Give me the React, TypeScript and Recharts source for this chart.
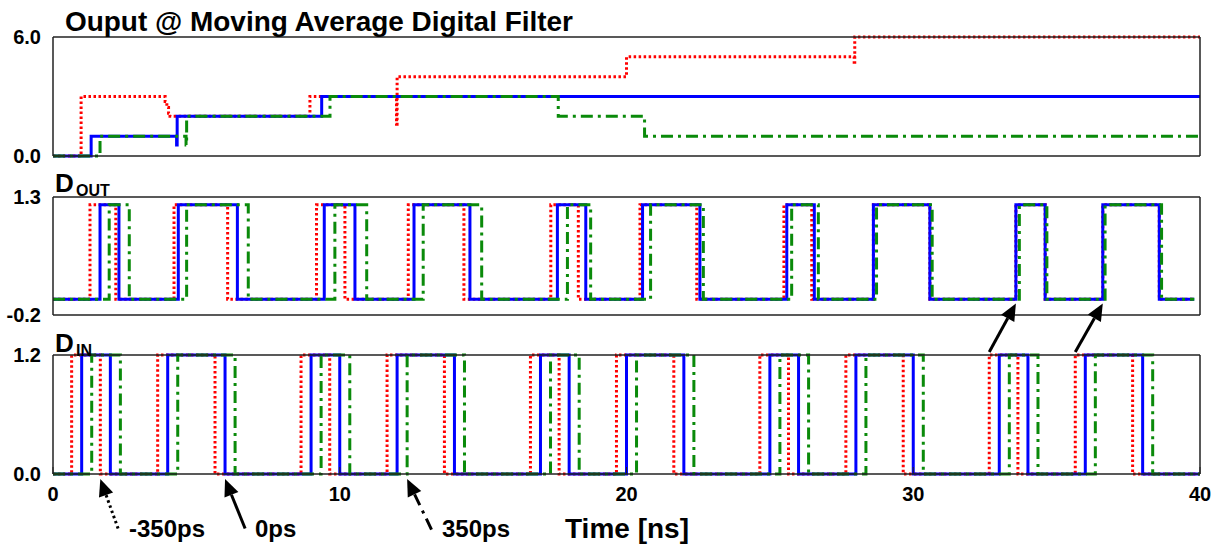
import React from 'react';
import { LineChart, Line, XAxis, YAxis, ReferenceLine } from 'recharts';

const FONT = '"Liberation Sans", Arial, sans-serif';

// x axis (ns)
const xMajorTicks = [0, 10, 20, 30, 40];
const xMinorTicks = [
  0, 1, 2, 3, 4, 5, 6, 7, 8, 9, 10, 11, 12, 13, 14, 15, 16, 17, 18, 19, 20,
  21, 22, 23, 24, 25, 26, 27, 28, 29, 30, 31, 32, 33, 34, 35, 36, 37, 38, 39, 40,
];

// moving average filter output: value held from each time on
const filterTimesEarly = [0, 0.98, 3.91, 3.97, 4.03, 4.08, 8.96, 11.98, 12.0, 20.0, 27.94, 27.96, 40];
const filterEarly = [0, 3, 2.75, 2.45, 2.15, 2, 3, 1.6, 4, 5, 4.6, 6, 6];
const filterTimesNominal = [0, 1.33, 4.31, 4.33, 9.37, 40];
const filterNominal = [0, 1, 0.55, 2, 3, 3];
const filterTimesLate = [0, 1.64, 4.64, 4.66, 9.66, 17.62, 20.63, 40];
const filterLate = [0, 1, 0.55, 2, 3, 2, 1, 1];

// D_OUT edges (rise, fall, rise, ...)
const doutEarly = [1.29, 2.19, 4.22, 6.09, 9.19, 10.18, 12.39, 14.33, 17.36, 18.32, 20.47, 22.45, 25.49, 26.46, 28.61, 30.58, 33.58, 34.6, 36.61, 38.58];
const doutNominal = [1.64, 2.3, 4.37, 6.43, 9.46, 10.53, 12.59, 14.54, 17.59, 18.58, 20.56, 22.56, 25.59, 26.55, 28.61, 30.58, 33.58, 34.6, 36.61, 38.58];
const doutLate = [1.96, 2.66, 4.66, 6.81, 9.83, 10.94, 12.91, 14.95, 17.94, 18.75, 20.84, 22.68, 25.76, 26.69, 28.72, 30.66, 33.7, 34.66, 36.69, 38.66];
const doutEnd = 39.8;
const doutLow = 0;
const doutHigh = 1.2;

// D_IN edges
const dinEarly = [0.65, 1.65, 3.65, 5.65, 8.65, 9.65, 11.65, 13.65, 16.65, 17.65, 19.65, 21.65, 24.65, 25.65, 27.65, 29.65, 32.65, 33.65, 35.65, 37.65];
const dinNominal = [1, 2, 4, 6, 9, 10, 12, 14, 17, 18, 20, 22, 25, 26, 28, 30, 33, 34, 36, 38];
const dinLate = [1.35, 2.35, 4.35, 6.35, 9.35, 10.35, 12.35, 14.35, 17.35, 18.35, 20.35, 22.35, 25.35, 26.35, 28.35, 30.35, 33.35, 34.35, 36.35, 38.35];
const dinEnd = 40;
const dinLow = 0;
const dinHigh = 1.2;

// y axes
const filterDomain: [number, number] = [0, 6];
const filterLabelTicks = [0, 6];
const filterMinorTicks = [0, 1, 2, 3, 4, 5, 6];
const doutDomain: [number, number] = [-0.2, 1.3];
const doutLabelTicks = [-0.2, 1.3];
const doutMinorTicks = [-0.2, 0.1, 0.4, 0.7, 1.0, 1.3];
const dinDomain: [number, number] = [0, 1.2];
const dinLabelTicks = [0, 1.2];
const dinMinorTicks = [0, 0.2, 0.4, 0.6, 0.8, 1.0, 1.2];

// annotation arrows on D_IN panel: [tail, tip]
const skewArrows = [
  { from: { x: 2.27, y: -0.55 }, to: { x: 1.65, y: -0.05 }, dash: '2.5 3' },
  { from: { x: 6.7, y: -0.55 }, to: { x: 6.0, y: -0.05 }, dash: undefined },
  { from: { x: 13.2, y: -0.56 }, to: { x: 12.35, y: -0.05 }, dash: '12 6 3 6' },
];
const syncArrows = [
  { from: { x: 32.65, y: 1.23 }, to: { x: 33.58, y: 1.72 } },
  { from: { x: 35.65, y: 1.23 }, to: { x: 36.61, y: 1.72 } },
];

type Pt = { t: number; v: number };

const toSteps = (times: number[], values: number[]): Pt[] =>
  times.map((t, i) => ({ t, v: values[i] }));

const edgesToSteps = (edges: number[], lo: number, hi: number, end: number): Pt[] => [
  { t: 0, v: lo },
  ...edges.map((t, i) => ({ t, v: i % 2 === 0 ? hi : lo })),
  { t: end, v: lo },
];

const RED = { stroke: '#ff0000', strokeDasharray: '2.5 2.5' };
const BLUE = { stroke: '#0000ff', strokeDasharray: undefined };
const GREEN = { stroke: '#0a8a0a', strokeDasharray: '12 5 3 5' };

const tickFont = { fontSize: 20, fontWeight: 700, fill: '#000', fontFamily: FONT };
const AXIS = '#222';

const arrowShape = (dash?: string) => (props: any) => {
  const { x1, y1, x2, y2 } = props;
  const dx = x2 - x1;
  const dy = y2 - y1;
  const len = Math.hypot(dx, dy) || 1;
  const ux = dx / len;
  const uy = dy / len;
  const head = 17;
  const half = 7.5;
  const bx = x2 - ux * head;
  const by = y2 - uy * head;
  const px = -uy * half;
  const py = ux * half;
  return (
    <g>
      <line x1={x1} y1={y1} x2={bx} y2={by} stroke="#000" strokeWidth={3} strokeDasharray={dash} />
      <polygon points={`${x2},${y2} ${bx + px},${by + py} ${bx - px},${by - py}`} fill="#000" />
    </g>
  );
};

// axes need a non-zero size to be drawn, so each one takes 1px
const frameAxes = (yDomain: [number, number], yLabels: number[], yMinor: number[], showX: boolean) => [
  <XAxis
    key="xb"
    xAxisId="xb"
    type="number"
    dataKey="t"
    domain={[0, 40]}
    ticks={xMajorTicks}
    interval={0}
    height={1}
    tickSize={-7}
    tickMargin={20}
    tick={showX ? tickFont : false}
    axisLine={{ stroke: AXIS, strokeWidth: 1.5 }}
    tickLine={{ stroke: AXIS }}
  />,
  <XAxis
    key="xbm"
    xAxisId="xbm"
    type="number"
    domain={[0, 40]}
    ticks={xMinorTicks}
    interval={0}
    height={1}
    tickSize={-5}
    tick={false}
    axisLine={false}
    tickLine={{ stroke: AXIS }}
  />,
  <XAxis
    key="xt"
    xAxisId="xt"
    orientation="top"
    type="number"
    domain={[0, 40]}
    ticks={xMajorTicks}
    interval={0}
    height={1}
    tickSize={-7}
    tick={false}
    axisLine={{ stroke: AXIS, strokeWidth: 1.5 }}
    tickLine={{ stroke: AXIS }}
  />,
  <XAxis
    key="xtm"
    xAxisId="xtm"
    orientation="top"
    type="number"
    domain={[0, 40]}
    ticks={xMinorTicks}
    interval={0}
    height={1}
    tickSize={-5}
    tick={false}
    axisLine={false}
    tickLine={{ stroke: AXIS }}
  />,
  <YAxis
    key="yl"
    yAxisId="yl"
    type="number"
    domain={yDomain}
    ticks={yLabels}
    interval={0}
    width={1}
    tickSize={-6}
    tickMargin={18}
    tick={tickFont}
    tickFormatter={(v: number) => v.toFixed(1)}
    axisLine={{ stroke: AXIS, strokeWidth: 1.5 }}
    tickLine={false}
  />,
  <YAxis
    key="ylm"
    yAxisId="ylm"
    type="number"
    domain={yDomain}
    ticks={yMinor}
    interval={0}
    width={1}
    tickSize={-5}
    tick={false}
    axisLine={false}
    tickLine={{ stroke: AXIS }}
  />,
  <YAxis
    key="yr"
    yAxisId="yr"
    orientation="right"
    type="number"
    domain={yDomain}
    ticks={yMinor}
    interval={0}
    width={1}
    tickSize={-5}
    tick={false}
    axisLine={{ stroke: AXIS, strokeWidth: 1.5 }}
    tickLine={{ stroke: AXIS }}
  />,
];

const seriesLines = (sets: { data: Pt[]; style: { stroke: string; strokeDasharray?: string } }[]) =>
  sets.map((s, i) => (
    <Line
      key={i}
      xAxisId="xb"
      yAxisId="yl"
      data={s.data}
      dataKey="v"
      type="stepAfter"
      stroke={s.style.stroke}
      strokeDasharray={s.style.strokeDasharray}
      strokeWidth={3}
      dot={false}
      activeDot={false}
      isAnimationActive={false}
    />
  ));

export default function App() {
  const filterSets = [
    { data: toSteps(filterTimesEarly, filterEarly), style: RED },
    { data: toSteps(filterTimesNominal, filterNominal), style: BLUE },
    { data: toSteps(filterTimesLate, filterLate), style: GREEN },
  ];
  const doutSets = [
    { data: edgesToSteps(doutEarly, doutLow, doutHigh, doutEnd), style: RED },
    { data: edgesToSteps(doutNominal, doutLow, doutHigh, doutEnd), style: BLUE },
    { data: edgesToSteps(doutLate, doutLow, doutHigh, doutEnd), style: GREEN },
  ];
  const dinSets = [
    { data: edgesToSteps(dinEarly, dinLow, dinHigh, dinEnd), style: RED },
    { data: edgesToSteps(dinNominal, dinLow, dinHigh, dinEnd), style: BLUE },
    { data: edgesToSteps(dinLate, dinLow, dinHigh, dinEnd), style: GREEN },
  ];

  const txt = { fontFamily: FONT, fontWeight: 700, fill: '#000' } as const;
  // plot box: x 53..1200; panels y 37..156, 197..315, 355..474
  const m = (top: number, bottom: number) => ({ top: top - 2, right: 19, bottom: bottom - 2, left: 51 });

  return (
    <div style={{ position: 'absolute', left: 0, top: 0, width: 1220, height: 548, background: '#fff' }}>
      <div style={{ position: 'absolute', left: 0, top: 0 }}>
        <LineChart width={1220} height={180} margin={m(37, 24)}>
          {frameAxes(filterDomain, filterLabelTicks, filterMinorTicks, false)}
          {seriesLines(filterSets)}
        </LineChart>
      </div>
      <div style={{ position: 'absolute', left: 0, top: 160 }}>
        <LineChart width={1220} height={180} margin={m(37, 25)}>
          {frameAxes(doutDomain, doutLabelTicks, doutMinorTicks, false)}
          {seriesLines(doutSets)}
        </LineChart>
      </div>
      <div style={{ position: 'absolute', left: 0, top: 290 }}>
        <LineChart width={1220} height={258} margin={m(65, 74)}>
          {frameAxes(dinDomain, dinLabelTicks, dinMinorTicks, true)}
          {seriesLines(dinSets)}
          {skewArrows.map((a, i) => (
            <ReferenceLine
              key={`s${i}`}
              xAxisId="xb"
              yAxisId="yl"
              segment={[a.from, a.to]}
              ifOverflow="visible"
              shape={arrowShape(a.dash)}
            />
          ))}
          {syncArrows.map((a, i) => (
            <ReferenceLine
              key={`r${i}`}
              xAxisId="xb"
              yAxisId="yl"
              segment={[a.from, a.to]}
              ifOverflow="visible"
              shape={arrowShape()}
            />
          ))}
        </LineChart>
      </div>
      <svg
        width={1220}
        height={548}
        style={{ position: 'absolute', left: 0, top: 0, pointerEvents: 'none' }}
      >
        <text x={65} y={31} fontSize={28} textLength={508} lengthAdjust="spacingAndGlyphs" {...txt}>
          Ouput @ Moving Average Digital Filter
        </text>
        <text x={55} y={192} fontSize={26} {...txt}>D</text>
        <text x={76} y={196} fontSize={16} {...txt}>OUT</text>
        <text x={55} y={352} fontSize={26} {...txt}>D</text>
        <text x={76} y={356} fontSize={16} {...txt}>IN</text>
        <text x={129} y={537} fontSize={24} {...txt}>-350ps</text>
        <text x={255} y={537} fontSize={24} {...txt}>0ps</text>
        <text x={442} y={537} fontSize={24} {...txt}>350ps</text>
        <text x={565} y={538} fontSize={28} {...txt}>Time [ns]</text>
      </svg>
    </div>
  );
}
